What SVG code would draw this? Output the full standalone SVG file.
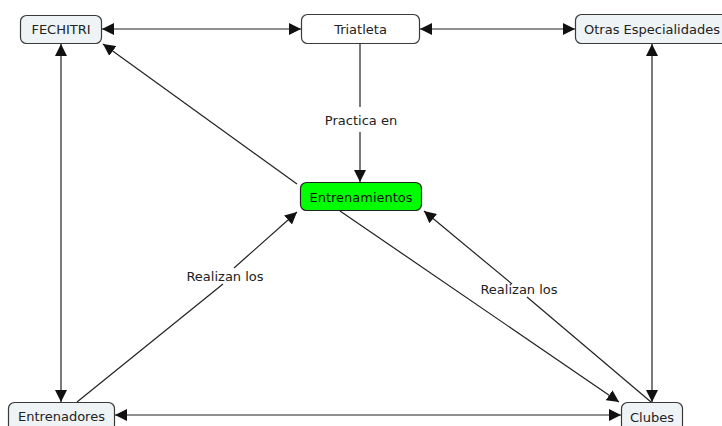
<svg xmlns="http://www.w3.org/2000/svg" width="722" height="426" viewBox="0 0 722 426">
  <defs>
    <marker id="arrow" viewBox="0 0 12 12" refX="12" refY="6" markerWidth="12" markerHeight="12" markerUnits="userSpaceOnUse" orient="auto-start-reverse">
      <path d="M0,0 L12,6 L0,12 Z" fill="#111"/>
    </marker>
  </defs>
  <style>
    .node rect { fill: #eef3f6; stroke: #3a3a3a; stroke-width: 1.2; }
    .node text { font-family: "DejaVu Sans", Verdana, sans-serif; font-size: 13px; fill: #222; text-anchor: middle; }
    .label { font-family: "DejaVu Sans", Verdana, sans-serif; font-size: 13px; fill: #222; text-anchor: middle; }
    .conn line { stroke: #222; stroke-width: 1.2; fill: none; }
    .end { marker-end: url(#arrow); }
    .both { marker-start: url(#arrow); marker-end: url(#arrow); }
  </style>
  <rect width="722" height="426" fill="#ffffff"/>

  <g id="connectors" class="conn">
    <!-- two-way links -->
    <line class="both" x1="102" y1="29" x2="301" y2="29"/>
    <line class="both" x1="420" y1="29" x2="575" y2="29"/>
    <line class="both" x1="61" y1="44" x2="61" y2="402"/>
    <line class="both" x1="652" y1="44" x2="652" y2="402"/>
    <line class="both" x1="115" y1="415" x2="621" y2="415"/>
    <!-- Triatleta: Practica en -->
    <line x1="360" y1="44" x2="360" y2="107"/>
    <line class="end" x1="360" y1="132" x2="360" y2="182"/>
    <!-- Entrenamientos to FECHITRI -->
    <line class="end" x1="297" y1="184" x2="103" y2="44"/>
    <!-- Entrenadores: Realizan los -->
    <line x1="77" y1="402" x2="223" y2="284"/>
    <line class="end" x1="234" y1="268" x2="297" y2="212"/>
    <!-- Entrenamientos to Clubes -->
    <line class="end" x1="340" y1="211" x2="619" y2="402"/>
    <!-- Clubes: Realizan los -->
    <line x1="651" y1="402" x2="527" y2="297"/>
    <line class="end" x1="512" y1="284" x2="424" y2="211"/>
  </g>

  <g id="labels">
    <text class="label" x="361" y="125">Practica en</text>
    <text class="label" x="225" y="281">Realizan los</text>
    <text class="label" x="519" y="294">Realizan los</text>
  </g>

  <g id="fechitri" class="node">
    <rect x="20.5" y="15.5" width="81" height="28" rx="6"/>
    <text x="61" y="34">FECHITRI</text>
  </g>
  <g id="triatleta" class="node">
    <rect x="301.5" y="14.5" width="118" height="29" rx="6" style="fill:#ffffff"/>
    <text x="360.5" y="33.5">Triatleta</text>
  </g>
  <g id="otras" class="node">
    <rect x="575.5" y="14.5" width="154" height="29" rx="6"/>
    <text x="652" y="33.5">Otras Especialidades</text>
  </g>
  <g id="entrenamientos" class="node">
    <rect x="300.5" y="182.5" width="121" height="28" rx="6" style="fill:#00ff00;stroke:#222"/>
    <text x="361" y="201.5" style="fill:#111">Entrenamientos</text>
  </g>
  <g id="entrenadores" class="node">
    <rect x="8.5" y="402.5" width="106" height="29" rx="6"/>
    <text x="61.5" y="421">Entrenadores</text>
  </g>
  <g id="clubes" class="node">
    <rect x="621.5" y="402.5" width="61" height="29" rx="6"/>
    <text x="652" y="421.5">Clubes</text>
  </g>
</svg>
